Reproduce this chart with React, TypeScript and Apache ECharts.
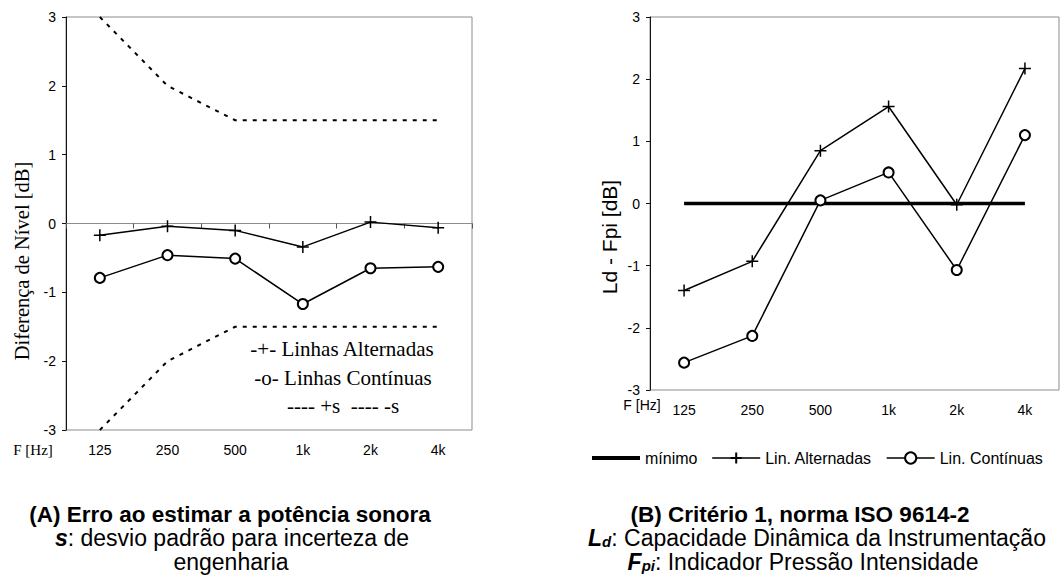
import React, { useEffect, useRef } from "react";
import * as echarts from "echarts";

// Frequency bands shared by both panels
const bands = ["125", "250", "500", "1k", "2k", "4k"];

// Panel A: level difference [dB]
const altA = [-0.17, -0.04, -0.1, -0.34, 0.02, -0.06];
const contA = [-0.79, -0.46, -0.51, -1.17, -0.65, -0.63];
const plusS = [3, 2, 1.5, 1.5, 1.5, 1.5];
const minusS = [-3, -2, -1.5, -1.5, -1.5, -1.5];

// Panel B: Ld - Fpi [dB]
const minimo = [0, 0, 0, 0, 0, 0];
const altB = [-1.4, -0.93, 0.85, 1.56, -0.02, 2.17];
const contB = [-2.56, -2.13, 0.05, 0.5, -1.07, 1.1];

const yTicks = { min: -3, max: 3, interval: 1 };

const PLUS = "path://M5,0L5,10M0,5L10,5";
const SERIF = "'Liberation Serif', 'Times New Roman', serif";
const SANS = "'Liberation Sans', Arial, sans-serif";

export default function App() {
  const ref = useRef<HTMLDivElement>(null);

  useEffect(() => {
    if (!ref.current) return;
    const chart = echarts.init(ref.current, undefined, { renderer: "svg" });

    const yAxisBase = (grid: number) => ({
      type: "value" as const,
      gridIndex: grid,
      ...yTicks,
      axisLine: { show: true, lineStyle: { color: "#111", width: 1 } },
      axisTick: { show: true, length: 4, lineStyle: { color: "#111" } },
      axisLabel: { color: "#000", fontFamily: SANS, fontSize: 14, margin: 10 },
      splitLine: { show: false },
    });

    const bottomAxis = (grid: number) => ({
      type: "category" as const,
      gridIndex: grid,
      data: bands,
      position: "bottom" as const,
      boundaryGap: true,
      axisLine: { show: false, onZero: false },
      axisTick: { show: false },
      axisLabel: { color: "#000", fontFamily: SANS, fontSize: 14, margin: 13 },
    });

    const lineSeries = (
      name: string,
      data: number[],
      xi: number,
      yi: number,
      symbol: string,
      size: number
    ) => ({
      name,
      type: "line" as const,
      xAxisIndex: xi,
      yAxisIndex: yi,
      data,
      symbol,
      symbolSize: size,
      showSymbol: symbol !== "none",
      lineStyle: { color: "#000", width: 1.5 },
      itemStyle: { color: "#000", borderColor: "#000", borderWidth: 1.5 },
      z: 3,
    });

    const sDashed = { color: "#000", width: 2, type: [4, 6] };

    const caption = (text: string, x: number, y: number, bold = false) => ({
      type: "text",
      x,
      y,
      style: {
        text,
        font: `${bold ? "bold 22.5px" : "23px"} ${SANS}`,
        lineHeight: 22,
        fill: "#000",
        align: "center",
        verticalAlign: "middle",
      },
    });

    const richCaption = (text: string, x: number, y: number) => ({
      type: "text",
      x,
      y,
      style: {
        text,
        align: "center",
        verticalAlign: "middle",
        rich: {
          em: { font: `italic bold 23px ${SANS}`, fill: "#000", lineHeight: 22 },
          sub: { font: `italic bold 15px ${SANS}`, fill: "#000", lineHeight: 8, verticalAlign: "bottom" },
          n: { font: `23px ${SANS}`, fill: "#000", lineHeight: 22 },
        },
      },
    });

    chart.setOption({
      animation: false,
      backgroundColor: "#fff",
      grid: [
        { left: 66, top: 17, width: 406, height: 413, show: true, borderColor: "#8c8c8c", borderWidth: 1 },
        { left: 650, top: 17, width: 409, height: 373, show: true, borderColor: "#8c8c8c", borderWidth: 1 },
      ],
      xAxis: [
        bottomAxis(0),
        {
          type: "category",
          gridIndex: 0,
          data: bands,
          position: "top",
          boundaryGap: true,
          axisLine: { show: true, onZero: true, lineStyle: { color: "#8c8c8c", width: 1 } },
          axisTick: { show: true, inside: true, length: 5, lineStyle: { color: "#555" } },
          axisLabel: { show: false },
        },
        bottomAxis(1),
      ],
      yAxis: [yAxisBase(0), yAxisBase(1)],
      legend: {
        left: 590,
        top: 450,
        padding: 0,
        itemWidth: 48,
        itemHeight: 14,
        itemGap: 14,
        width: 470,
        lineStyle: { width: 1.5 },
        textStyle: { color: "#000", fontFamily: SANS, fontSize: 16 },
        data: [
          { name: "mínimo", itemStyle: { opacity: 0 }, lineStyle: { width: 4 } },
          { name: "Lin. Alternadas" },
          { name: "Lin. Contínuas" },
        ],
      },
      series: [
        { ...lineSeries("+s", plusS, 0, 0, "none", 0), lineStyle: sDashed },
        { ...lineSeries("-s", minusS, 0, 0, "none", 0), lineStyle: sDashed },
        lineSeries("Linhas Alternadas", altA, 0, 0, PLUS, 12),
        lineSeries("Linhas Contínuas", contA, 0, 0, "emptyCircle", 10),
        {
          ...lineSeries("mínimo", minimo, 2, 1, "none", 0),
          lineStyle: { color: "#000", width: 3.5 },
          z: 2,
        },
        lineSeries("Lin. Alternadas", altB, 2, 1, PLUS, 12),
        lineSeries("Lin. Contínuas", contB, 2, 1, "emptyCircle", 10),
      ],
      graphic: [
        // Panel A texts
        {
          type: "text",
          x: 22,
          y: 261,
          rotation: Math.PI / 2,
          style: { text: "Diferença de Nível [dB]", font: `20.5px ${SERIF}`, fill: "#000", align: "center", verticalAlign: "middle" },
        },
        {
          type: "text",
          x: 33,
          y: 450,
          style: { text: "F [Hz]", font: `15px ${SERIF}`, fill: "#000", align: "center", verticalAlign: "middle" },
        },
        {
          type: "text",
          x: 342,
          y: 349,
          style: { text: "-+- Linhas Alternadas", font: `21px ${SERIF}`, fill: "#000", align: "center", verticalAlign: "middle" },
        },
        {
          type: "text",
          x: 343,
          y: 378,
          style: { text: "-o- Linhas Contínuas", font: `21px ${SERIF}`, fill: "#000", align: "center", verticalAlign: "middle" },
        },
        {
          type: "text",
          x: 343,
          y: 406,
          style: { text: "---- +s  ---- -s", font: `21px ${SERIF}`, fill: "#000", align: "center", verticalAlign: "middle" },
        },
        // Panel B texts
        {
          type: "text",
          x: 609,
          y: 237,
          rotation: Math.PI / 2,
          style: { text: "Ld - Fpi [dB]", font: `21px ${SANS}`, fill: "#000", align: "center", verticalAlign: "middle" },
        },
        {
          type: "text",
          x: 642,
          y: 405,
          style: { text: "F [Hz]", font: `14px ${SANS}`, fill: "#000", align: "center", verticalAlign: "middle" },
        },
        // Captions
        caption("(A) Erro ao estimar a potência sonora", 230, 514, true),
        richCaption("{em|s}{n|: desvio padrão para incerteza de}", 232, 538),
        caption("engenharia", 231, 562),
        caption("(B) Critério 1, norma ISO 9614-2", 800, 514, true),
        richCaption("{em|L}{sub|d}{n|: Capacidade Dinâmica da Instrumentação}", 817, 538),
        richCaption("{em|F}{sub|pi}{n|: Indicador Pressão Intensidade}", 803, 562),
      ],
    });

    return () => chart.dispose();
  }, []);

  return (
    <div
      ref={ref}
      style={{ position: "fixed", left: 0, top: 0, width: 1060, height: 583, background: "#fff" }}
    />
  );
}
